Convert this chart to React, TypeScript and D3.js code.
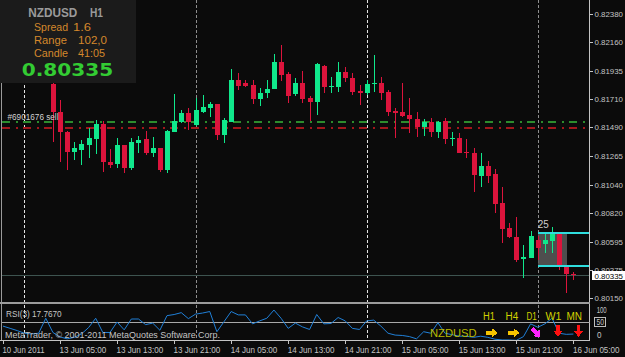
import React from "react";
import * as d3 from "d3";

// ---------- data ----------
const firstBar = 7; // bars 0..6 sit behind the info panel
const opens = [
  0.81831, 0.81611, 0.81454, 0.81295, 0.81313, 0.81352, 0.81397, 0.81517, 0.81221, 0.81201,
  0.81352, 0.8117, 0.8137, 0.814, 0.81287, 0.81327, 0.81156, 0.81457, 0.81535, 0.81601,
  0.81509, 0.81614, 0.81645, 0.81672, 0.81431, 0.81535, 0.81862, 0.81836, 0.81823, 0.81713,
  0.81758, 0.81792, 0.82001, 0.81909, 0.8175, 0.81841, 0.81723, 0.81692, 0.81972, 0.81805,
  0.8181, 0.81923, 0.8188, 0.81776, 0.81758, 0.81836, 0.81841, 0.81771, 0.81622, 0.81609,
  0.81588, 0.81554, 0.81496, 0.81531, 0.81457, 0.81537, 0.814, 0.81405, 0.813, 0.81292,
  0.81109, 0.81188, 0.81125, 0.809, 0.80704, 0.80628, 0.80456, 0.80464, 0.80607, 0.80574,
  0.80602, 0.8066, 0.80393, 0.80341,
];
const highs = [
  0.81878, 0.81705, 0.81462, 0.81378, 0.81392, 0.81486, 0.81549, 0.81541, 0.81319, 0.81405,
  0.81355, 0.8141, 0.81423, 0.81462, 0.81418, 0.81332, 0.8147, 0.8175, 0.81627, 0.81643,
  0.81721, 0.81745, 0.81692, 0.81674, 0.81562, 0.81946, 0.8192, 0.81862, 0.81862, 0.81797,
  0.81862, 0.82066, 0.82137, 0.81927, 0.81876, 0.81935, 0.81737, 0.81993, 0.8198, 0.81884,
  0.82006, 0.81962, 0.81915, 0.81823, 0.81862, 0.82058, 0.81888, 0.81784, 0.81643, 0.81835,
  0.81719, 0.81609, 0.81554, 0.81562, 0.81543, 0.81567, 0.81457, 0.81449, 0.81397, 0.81327,
  0.8129, 0.81227, 0.81162, 0.81021, 0.80743, 0.8079, 0.80568, 0.80678, 0.80639, 0.80652,
  0.80707, 0.80672, 0.80411, 0.80359,
];
const lows = [
  0.81376, 0.81219, 0.81156, 0.81235, 0.81196, 0.8125, 0.81282, 0.81143, 0.81172, 0.81172,
  0.81133, 0.81156, 0.81292, 0.81274, 0.81261, 0.81143, 0.81133, 0.81454, 0.81525, 0.8147,
  0.81502, 0.81603, 0.81574, 0.81392, 0.81366, 0.81535, 0.81784, 0.81805, 0.81674, 0.81658,
  0.81719, 0.8179, 0.81857, 0.8168, 0.81737, 0.8168, 0.81543, 0.81588, 0.81763, 0.81763,
  0.81771, 0.81849, 0.81745, 0.81666, 0.81745, 0.81771, 0.81705, 0.8158, 0.81405, 0.81575,
  0.81449, 0.81418, 0.81425, 0.81418, 0.8141, 0.8136, 0.81345, 0.8129, 0.81253, 0.80986,
  0.81021, 0.81057, 0.80817, 0.80581, 0.80625, 0.80437, 0.80307, 0.80464, 0.8045, 0.80503,
  0.80503, 0.80372, 0.80189, 0.80294,
];
const closes = [
  0.81611, 0.81454, 0.81298, 0.81331, 0.8136, 0.81405, 0.81517, 0.81221, 0.81196, 0.81352,
  0.8117, 0.81378, 0.81392, 0.81287, 0.81327, 0.81156, 0.81462, 0.81543, 0.81601, 0.81535,
  0.81627, 0.81653, 0.81674, 0.81431, 0.81549, 0.81862, 0.81818, 0.81818, 0.81713, 0.81763,
  0.81789, 0.82006, 0.81902, 0.81739, 0.81841, 0.81713, 0.81692, 0.81988, 0.8181, 0.81818,
  0.81923, 0.81876, 0.81771, 0.81763, 0.81831, 0.81841, 0.81758, 0.81615, 0.81607, 0.8158,
  0.81554, 0.81496, 0.81531, 0.81457, 0.81535, 0.814, 0.8141, 0.81292, 0.81287, 0.81117,
  0.81188, 0.81109, 0.8089, 0.80691, 0.80633, 0.8045, 0.80472, 0.80639, 0.80542, 0.80607,
  0.80665, 0.80411, 0.80338, 0.80335,
];
const rsiValues = [
  39, 33, 27, 20, 18, 20, 60, 22, 10, 5, 9, 18, 35, 60, 22, 22, 50, 29, 58, 58,
  43, 47, 28, 67, 70, 75, 59, 71, 74, 78, 24, 51, 78, 69, 69, 45, 53, 60, 82, 60,
  33, 47, 37, 30, 70, 45, 46, 62, 53, 33, 30, 53, 55, 39, 20, 15, 14, 11, 5, 24,
  20, 48, 20, 16, 12, 12, 9, 12, 9, 4, 2, 2, 1, 11, 45, 36, 45, 60, 20, 17, 17.767,
];
const timeLabels = [
  "10 Jun 2011", "13 Jun 05:00", "13 Jun 13:00", "13 Jun 21:00", "14 Jun 05:00", "14 Jun 13:00",
  "14 Jun 21:00", "15 Jun 05:00", "15 Jun 13:00", "15 Jun 21:00", "16 Jun 05:00",
];
const timeLabelBars = [0, 8, 16, 24, 32, 40, 48, 56, 64, 72, 80];
const priceTicks = [0.8238, 0.8216, 0.81935, 0.8171, 0.8149, 0.81265, 0.8104, 0.8082, 0.80595, 0.80375, 0.8015];
const separatorBars = [3, 27, 51, 75];
const separatorColors = ["#e6e6e6", "#8e8e8e", "#e6e6e6", "#8e8e8e"];
const orderPrice = 0.81488;
const targetPrice = 0.81535;
const dayHigh = 0.80665;
const dayLow = 0.80403;
const dayStartBar = 75;
const dayBars = 25;
const rsiLevel = 50;
const tfLabels = ["H1", "H4", "D1", "W1", "MN"];
const tfX = [483, 505.5, 526.5, 545.5, 566.5];
const tfW = [12, 12.7, 10.3, 16, 15.6];
const tfArrows = ["right", "right", "downright", "down", "down"];
const tfArrowX = [491.7, 513.5, 536.3, 558, 578.5];

// ---------- layout ----------
const W = 625;
const H = 357;
const plotL = 2;
const plotR = 589.5;
const mainBottom = 301.5;
const rsiTop = 303.3;
const rsiBottom = 340.7;
const BULL = "#10e88c";
const BEAR = "#dc143c";
const AXIS = "#c4c4c4";
const FONT = "'Liberation Sans', Arial, sans-serif";

const xs = d3.scaleLinear().domain([0, 80]).range([3, 573.4]);
const yP = d3.scaleLinear().domain([0.8015, 0.8238]).range([298.3, 14]);
const yR = d3.scaleLinear().domain([0, 100]).range([rsiBottom, rsiTop]);

function T(props: any) {
  const { x, y, children, size = 9, fill = AXIS, w, weight, family = FONT, anchor } = props;
  return (
    <text
      x={x}
      y={y}
      fill={fill}
      fontSize={size}
      fontFamily={family}
      fontWeight={weight}
      textAnchor={anchor}
      textLength={w}
      lengthAdjust={w ? "spacingAndGlyphs" : undefined}
    >
      {children}
    </text>
  );
}

function Arrow({ kind, cx, cy, color }: any) {
  let pts: number[][];
  if (kind === "down") {
    pts = [[-1.8, -6], [1.8, -6], [1.8, -0.5], [5, -0.5], [0, 6], [-5, -0.5], [-1.8, -0.5]];
  } else {
    pts = [[-6, -1.8], [0.5, -1.8], [0.5, -4.5], [6, 0], [0.5, 4.5], [0.5, 1.8], [-6, 1.8]];
  }
  const rot = kind === "downright" ? 45 : 0;
  return (
    <polygon
      points={pts.map((p) => p.join(",")).join(" ")}
      fill={color}
      transform={`translate(${cx},${cy}) rotate(${rot})`}
    />
  );
}

export default function App() {
  const candles = opens.map((o, k) => ({
    i: k + firstBar,
    o,
    h: highs[k],
    l: lows[k],
    c: closes[k],
  }));
  const rsiLine = d3
    .line<number>()
    .x((_, i) => xs(i))
    .y((d) => yR(d))(rsiValues) as string;
  const last = closes[closes.length - 1];
  const bidY = Math.round(yP(last)) + 0.5;

  return (
    <svg
      width={W}
      height={H}
      style={{ position: "fixed", left: 0, top: 0, background: "#0b0b0b" }}
      shapeRendering="crispEdges"
    >
      <rect x={0} y={0} width={W} height={H} fill="#0b0b0b" />

      {/* period separators */}
      {separatorBars.map((b, k) => (
        <line
          key={"sep" + k}
          x1={Math.round(xs(b)) + 0.5}
          x2={Math.round(xs(b)) + 0.5}
          y1={0}
          y2={rsiBottom}
          stroke={separatorColors[k]}
          strokeDasharray="3,2"
        />
      ))}

      {/* order lines */}
      <line x1={plotL} x2={plotR} y1={yP(targetPrice)} y2={yP(targetPrice)} stroke="#2d8c2d" strokeWidth={2} strokeDasharray="8,5.5,2.5,5" />
      <line x1={plotL} x2={plotR} y1={yP(orderPrice)} y2={yP(orderPrice)} stroke="#a3161c" strokeWidth={2} strokeDasharray="8,5.5,2.5,5" />

      {/* bid line */}
      <line x1={plotL} x2={plotR} y1={bidY} y2={bidY} stroke="#3e5450" />

      {/* day range box */}
      <rect
        x={xs(dayStartBar)}
        y={yP(dayHigh)}
        width={xs(dayStartBar + 4) + 1 - xs(dayStartBar)}
        height={yP(dayLow) - yP(dayHigh)}
        fill="#5a5a5a"
        opacity={0.85}
      />

      {/* candles */}
      {candles.map((d) => {
        const x = Math.round(xs(d.i));
        const up = d.c >= d.o;
        const col = up ? BULL : BEAR;
        const top = yP(Math.max(d.o, d.c));
        const bot = yP(Math.min(d.o, d.c));
        return (
          <g key={"c" + d.i}>
            <line x1={x + 0.5} x2={x + 0.5} y1={yP(d.h)} y2={yP(d.l)} stroke={col} />
            <rect x={x - 2} y={top} width={5} height={Math.max(1.5, bot - top)} fill={col} />
          </g>
        );
      })}

      {/* day range lines */}
      <line x1={xs(dayStartBar)} x2={plotR} y1={yP(dayHigh)} y2={yP(dayHigh)} stroke="#2fdede" strokeWidth={2} />
      <line x1={xs(dayStartBar)} x2={plotR} y1={yP(dayLow)} y2={yP(dayLow)} stroke="#2fdede" strokeWidth={2} />
      <T x={xs(dayStartBar)} y={228} size={10} fill="#cfcfcf" w={11}>{String(dayBars)}</T>

      {/* order label */}
      <T x={7.5} y={120} size={8.5} fill="#d2d2d2" w={51}>#6901676 sell</T>

      {/* info panel */}
      <rect x={0} y={0} width={136} height={83} fill="#1b1b1b" />
      <T x={28.3} y={16.7} size={12} weight="bold" fill="#9a9a9a" w={49}>NZDUSD</T>
      <T x={90} y={16.7} size={12} weight="bold" fill="#9a9a9a" w={13}>H1</T>
      <T x={34} y={31} size={11} fill="#d4882c" w={34}>Spread</T>
      <T x={73} y={31} size={11} fill="#d4882c" w={18}>1.6</T>
      <T x={34} y={44} size={11} fill="#d4882c" w={33}>Range</T>
      <T x={78} y={44} size={11} fill="#d4882c" w={29}>102,0</T>
      <T x={34} y={57} size={11} fill="#d4882c" w={34}>Candle</T>
      <T x={78} y={57} size={11} fill="#d4882c" w={27}>41:05</T>
      <T x={21.7} y={76} size={18.5} weight="bold" fill="#33cc33" w={91.6} family="'DejaVu Sans', sans-serif">
        {last.toFixed(5)}
      </T>

      {/* left border */}
      <line x1={1.5} x2={1.5} y1={83} y2={rsiBottom} stroke="#9a9a9a" />

      {/* price axis */}
      <line x1={plotR} x2={plotR} y1={0} y2={rsiBottom} stroke={AXIS} />
      {priceTicks.map((p, k) => (
        <g key={"pt" + k}>
          <line x1={plotR} x2={plotR + 3} y1={Math.round(yP(p)) + 0.5} y2={Math.round(yP(p)) + 0.5} stroke={AXIS} />
          <T x={594.5} y={yP(p) + 3} size={8} w={28.5}>{p.toFixed(5)}</T>
        </g>
      ))}
      <rect x={592} y={bidY - 4.5} width={33} height={9} fill="#ffffff" />
      <T x={594.5} y={bidY + 3} size={8} fill="#000000" w={28.5}>{last.toFixed(5)}</T>

      {/* separator band */}
      <rect x={0} y={mainBottom} width={plotR} height={2.8} fill="#9c9c9c" />

      {/* RSI panel */}
      <line x1={plotL} x2={plotR} y1={Math.round(yR(rsiLevel)) + 0.5} y2={Math.round(yR(rsiLevel)) + 0.5} stroke="#a8a8a8" />
      <path d={rsiLine} fill="none" stroke="#2080d8" strokeWidth={1} shapeRendering="auto" />
      <line x1={0} x2={plotR} y1={rsiBottom} y2={rsiBottom} stroke={AXIS} />
      <T x={6} y={316.5} w={55.7}>RSI(3) {rsiValues[rsiValues.length - 1].toFixed(4)}</T>
      <T x={5} y={337.5} w={215}>MetaTrader, © 2001-2011 MetaQuotes Software Corp.</T>

      {/* RSI axis */}
      <T x={596.7} y={313} size={8.5} w={10}>100</T>
      <rect x={594.5} y={yR(rsiLevel) - 4.5} width={11} height={9} fill="none" stroke="#bdbdbd" />
      <T x={596.5} y={yR(rsiLevel) + 3.2} size={8.5} w={7.5}>{String(rsiLevel)}</T>
      <T x={597} y={337.5} size={8.5} w={4.5}>0</T>

      {/* trend panel */}
      <T x={430} y={336.5} size={10} fill="#b8b800" w={46.7}>NZDUSD</T>
      {tfLabels.map((t, k) => (
        <T key={"tf" + k} x={tfX[k]} y={319.5} size={10} fill="#d2d200" w={tfW[k]}>{t}</T>
      ))}
      {tfArrows.map((a, k) => (
        <Arrow
          key={"ar" + k}
          kind={a}
          cx={tfArrowX[k]}
          cy={a === "down" ? 331 : 332.8}
          color={a === "right" ? "#f5c400" : a === "downright" ? "#ff22ff" : "#ff1010"}
        />
      ))}

      {/* time axis */}
      {timeLabelBars.map((b, k) => (
        <g key={"tl" + k}>
          <line x1={Math.round(xs(b)) + 0.5} x2={Math.round(xs(b)) + 0.5} y1={rsiBottom} y2={rsiBottom + 3.5} stroke={AXIS} />
          <T x={xs(b) - 0.5} y={353} size={8.5} w={k === 0 ? 42 : 46.7}>{timeLabels[k]}</T>
        </g>
      ))}
    </svg>
  );
}
